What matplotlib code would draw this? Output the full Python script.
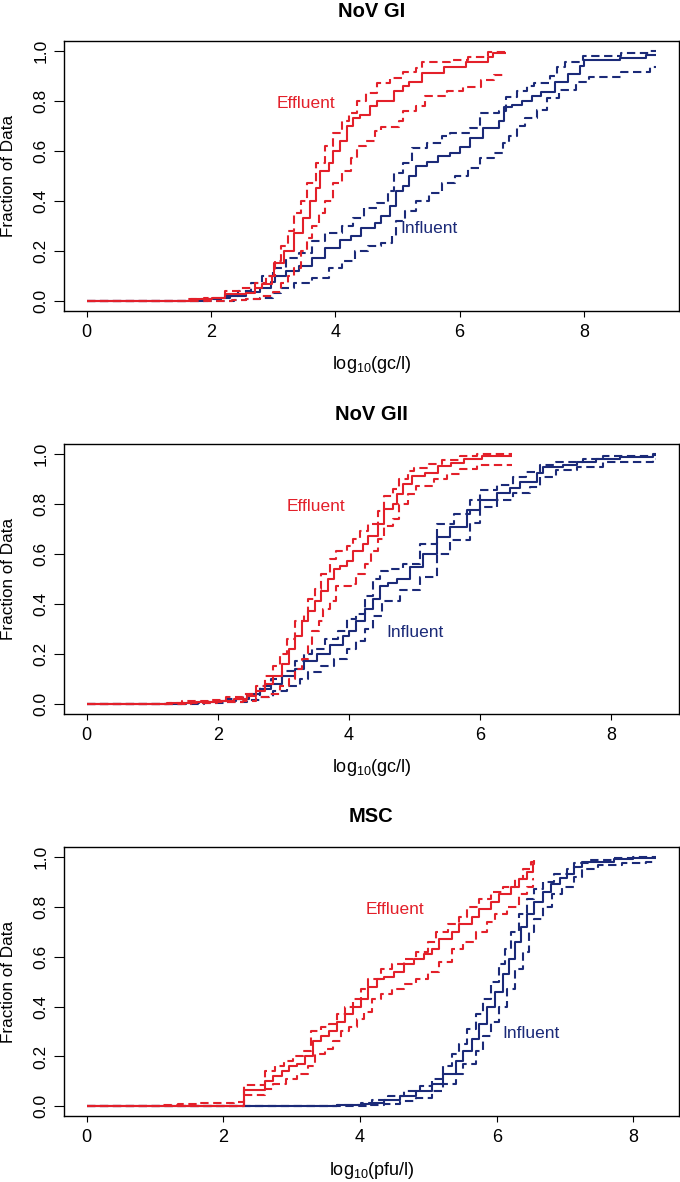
import matplotlib
matplotlib.use("Agg")
import matplotlib.pyplot as plt

plt.rcParams['font.family'] = ['Liberation Sans', 'DejaVu Sans']
plt.rcParams['mathtext.fontset'] = 'custom'
plt.rcParams['mathtext.rm'] = 'Liberation Sans'

RED = '#E3202A'
NAVY = '#1B2A78'

# ---------------- NoV GI ----------------
gi_eff_x = [0, 1.67, 2.02, 2.23, 2.57, 2.71, 2.82, 2.98, 3.02, 3.17, 3.34, 3.48, 3.59, 3.69, 3.76, 3.90, 3.97, 4.08, 4.18, 4.28, 4.39, 4.56, 4.67, 4.95, 5.09, 5.19, 5.40, 5.75, 6.10, 6.45, 6.53, 6.74]
gi_eff_y = [0, 0.005, 0.01, 0.025, 0.03, 0.05, 0.065, 0.10, 0.15, 0.20, 0.27, 0.33, 0.40, 0.45, 0.52, 0.55, 0.60, 0.64, 0.70, 0.73, 0.745, 0.78, 0.80, 0.84, 0.86, 0.875, 0.913, 0.935, 0.957, 0.975, 0.99, 0.99]
gi_eff_up_x = [0, 1.63, 1.88, 2.23, 2.47, 2.71, 2.89, 3.03, 3.13, 3.24, 3.34, 3.45, 3.55, 3.69, 3.83, 3.97, 4.11, 4.22, 4.35, 4.49, 4.67, 4.88, 5.09, 5.30, 5.40, 5.85, 6.13, 6.45, 6.74]
gi_eff_up_y = [0, 0.005, 0.01, 0.04, 0.05, 0.07, 0.10, 0.16, 0.22, 0.28, 0.35, 0.40, 0.47, 0.55, 0.62, 0.67, 0.72, 0.75, 0.80, 0.83, 0.87, 0.89, 0.915, 0.93, 0.955, 0.965, 0.975, 0.997, 0.997]
gi_eff_lo_x = [0, 2.33, 2.57, 2.78, 2.99, 3.13, 3.24, 3.34, 3.45, 3.55, 3.62, 3.73, 3.83, 3.97, 4.11, 4.25, 4.35, 4.49, 4.63, 4.74, 5.02, 5.09, 5.30, 5.44, 5.79, 6.05, 6.34, 6.55, 6.74]
gi_eff_lo_y = [0, 0.003, 0.008, 0.02, 0.035, 0.07, 0.10, 0.13, 0.20, 0.25, 0.30, 0.35, 0.40, 0.47, 0.52, 0.57, 0.62, 0.64, 0.68, 0.695, 0.72, 0.76, 0.78, 0.82, 0.84, 0.857, 0.885, 0.904, 0.904]
gi_inf_x = [0, 1.95, 2.16, 2.30, 2.57, 2.78, 2.96, 3.03, 3.20, 3.41, 3.62, 3.83, 4.08, 4.25, 4.42, 4.63, 4.74, 4.88, 4.98, 5.09, 5.19, 5.30, 5.47, 5.65, 5.84, 6.0, 6.17, 6.37, 6.64, 6.72, 6.85, 7.0, 7.17, 7.31, 7.53, 7.74, 7.93, 8.0, 8.58, 9.0, 9.16]
gi_inf_y = [0, 0.005, 0.01, 0.02, 0.035, 0.05, 0.075, 0.10, 0.12, 0.14, 0.17, 0.21, 0.245, 0.26, 0.29, 0.31, 0.34, 0.38, 0.44, 0.46, 0.50, 0.54, 0.555, 0.58, 0.59, 0.615, 0.65, 0.69, 0.72, 0.775, 0.785, 0.80, 0.82, 0.835, 0.875, 0.908, 0.94, 0.962, 0.971, 0.985, 0.985]
gi_inf_up_x = [0, 1.88, 2.16, 2.44, 2.64, 2.82, 2.99, 3.20, 3.41, 3.62, 3.83, 4.11, 4.28, 4.46, 4.67, 4.84, 4.95, 5.09, 5.23, 5.47, 5.72, 5.84, 6.16, 6.32, 6.64, 6.75, 6.92, 7.08, 7.20, 7.45, 7.56, 7.70, 7.98, 8.60, 9.06, 9.16]
gi_inf_up_y = [0, 0.005, 0.02, 0.04, 0.07, 0.10, 0.13, 0.17, 0.19, 0.24, 0.27, 0.30, 0.33, 0.37, 0.39, 0.44, 0.51, 0.55, 0.61, 0.63, 0.66, 0.67, 0.69, 0.75, 0.76, 0.815, 0.84, 0.86, 0.873, 0.90, 0.935, 0.957, 0.98, 0.99, 1.0, 1.0]
gi_inf_lo_x = [0, 2.37, 2.57, 2.78, 2.99, 3.13, 3.34, 3.62, 3.90, 4.11, 4.32, 4.53, 4.74, 4.91, 4.98, 5.12, 5.30, 5.51, 5.72, 5.92, 6.13, 6.33, 6.55, 6.69, 6.80, 6.92, 7.05, 7.25, 7.40, 7.60, 7.88, 8.08, 8.60, 9.06, 9.16]
gi_inf_lo_y = [0, 0.003, 0.006, 0.01, 0.03, 0.05, 0.07, 0.09, 0.13, 0.16, 0.20, 0.22, 0.23, 0.26, 0.32, 0.36, 0.40, 0.43, 0.47, 0.50, 0.53, 0.57, 0.59, 0.63, 0.66, 0.70, 0.73, 0.765, 0.81, 0.843, 0.875, 0.895, 0.915, 0.935, 0.935]

# ---------------- NoV GII ----------------
gii_eff_x = [0, 1.26, 1.66, 1.99, 2.25, 2.45, 2.58, 2.72, 2.85, 2.98, 3.08, 3.18, 3.28, 3.38, 3.48, 3.58, 3.68, 3.77, 3.87, 3.97, 4.07, 4.21, 4.30, 4.44, 4.54, 4.67, 4.74, 4.83, 4.97, 5.17, 5.36, 5.56, 5.76, 6.03, 6.49]
gii_eff_y = [0, 0.003, 0.007, 0.012, 0.02, 0.03, 0.05, 0.08, 0.11, 0.16, 0.22, 0.27, 0.33, 0.37, 0.41, 0.45, 0.50, 0.54, 0.55, 0.57, 0.61, 0.64, 0.67, 0.72, 0.78, 0.80, 0.84, 0.88, 0.91, 0.925, 0.95, 0.965, 0.98, 0.993, 0.993]
gii_eff_up_x = [0, 1.22, 1.46, 1.85, 2.12, 2.38, 2.58, 2.72, 2.85, 2.95, 3.05, 3.18, 3.31, 3.38, 3.48, 3.58, 3.71, 3.81, 3.97, 4.07, 4.17, 4.30, 4.44, 4.54, 4.67, 4.77, 4.90, 5.0, 5.23, 5.43, 5.70, 5.96, 6.49]
gii_eff_up_y = [0, 0.003, 0.01, 0.015, 0.025, 0.04, 0.07, 0.11, 0.15, 0.20, 0.26, 0.33, 0.36, 0.42, 0.46, 0.52, 0.58, 0.61, 0.63, 0.66, 0.69, 0.72, 0.77, 0.83, 0.86, 0.90, 0.93, 0.945, 0.96, 0.975, 0.99, 1.0, 1.0]
gii_eff_lo_x = [0, 1.59, 1.99, 2.38, 2.58, 2.78, 2.95, 3.08, 3.18, 3.28, 3.38, 3.44, 3.54, 3.61, 3.71, 3.81, 4.04, 4.11, 4.24, 4.34, 4.44, 4.54, 4.67, 4.77, 4.90, 5.03, 5.30, 5.50, 5.70, 5.96, 6.49]
gii_eff_lo_y = [0, 0.003, 0.005, 0.012, 0.025, 0.04, 0.07, 0.10, 0.14, 0.18, 0.24, 0.29, 0.33, 0.38, 0.41, 0.47, 0.48, 0.52, 0.56, 0.61, 0.66, 0.71, 0.74, 0.80, 0.84, 0.87, 0.90, 0.92, 0.94, 0.955, 0.955]
gii_inf_x = [0, 1.52, 1.72, 2.05, 2.28, 2.48, 2.65, 2.81, 2.98, 3.18, 3.31, 3.51, 3.71, 3.91, 4.0, 4.11, 4.24, 4.37, 4.47, 4.60, 4.73, 4.93, 5.13, 5.34, 5.54, 5.80, 6.0, 6.26, 6.46, 6.61, 6.87, 6.97, 7.27, 7.48, 7.78, 8.14, 8.64, 8.69]
gii_inf_y = [0, 0.002, 0.005, 0.01, 0.02, 0.04, 0.06, 0.08, 0.11, 0.14, 0.17, 0.20, 0.235, 0.27, 0.29, 0.33, 0.38, 0.42, 0.47, 0.485, 0.50, 0.548, 0.60, 0.668, 0.708, 0.775, 0.815, 0.843, 0.862, 0.889, 0.922, 0.949, 0.955, 0.968, 0.981, 0.988, 0.995, 0.995]
gii_inf_up_x = [0, 1.46, 1.79, 2.12, 2.38, 2.65, 2.81, 2.98, 3.18, 3.31, 3.44, 3.64, 3.84, 3.97, 4.11, 4.24, 4.37, 4.47, 4.60, 4.83, 5.08, 5.34, 5.60, 5.85, 6.0, 6.26, 6.51, 6.71, 6.92, 7.17, 7.58, 7.88, 8.64, 8.69]
gii_inf_up_y = [0, 0.002, 0.005, 0.02, 0.035, 0.07, 0.10, 0.13, 0.17, 0.20, 0.22, 0.26, 0.29, 0.34, 0.36, 0.43, 0.50, 0.53, 0.54, 0.56, 0.64, 0.72, 0.76, 0.815, 0.855, 0.875, 0.909, 0.929, 0.955, 0.968, 0.981, 0.99, 0.998, 0.998]
gii_inf_lo_x = [0, 1.79, 2.12, 2.45, 2.65, 2.85, 3.05, 3.25, 3.38, 3.58, 3.77, 3.97, 4.11, 4.24, 4.37, 4.50, 4.78, 5.08, 5.34, 5.54, 5.85, 6.0, 6.26, 6.51, 6.76, 6.92, 7.17, 7.48, 7.88, 8.64, 8.69]
gii_inf_lo_y = [0, 0.002, 0.005, 0.015, 0.025, 0.05, 0.07, 0.10, 0.125, 0.15, 0.18, 0.22, 0.25, 0.30, 0.35, 0.41, 0.454, 0.508, 0.60, 0.655, 0.722, 0.789, 0.815, 0.842, 0.869, 0.909, 0.936, 0.949, 0.968, 0.981, 0.981]

# ---------------- MSC ----------------
msc_eff_x = [0, 2.30, 2.61, 2.73, 2.85, 2.96, 3.08, 3.20, 3.31, 3.43, 3.54, 3.66, 3.78, 3.89, 4.01, 4.12, 4.24, 4.35, 4.50, 4.64, 4.79, 4.93, 5.05, 5.16, 5.34, 5.45, 5.63, 5.74, 5.92, 6.03, 6.21, 6.32, 6.44, 6.53, 6.55]
msc_eff_y = [0, 0.065, 0.10, 0.12, 0.14, 0.16, 0.17, 0.20, 0.26, 0.28, 0.30, 0.34, 0.37, 0.40, 0.43, 0.48, 0.51, 0.52, 0.54, 0.57, 0.59, 0.61, 0.63, 0.67, 0.70, 0.73, 0.76, 0.79, 0.82, 0.85, 0.88, 0.91, 0.94, 0.97, 0.98]
msc_eff_up_x = [0, 0.76, 1.05, 1.34, 1.63, 1.92, 2.15, 2.30, 2.61, 2.76, 2.88, 3.02, 3.17, 3.28, 3.43, 3.54, 3.66, 3.78, 3.89, 4.01, 4.12, 4.30, 4.47, 4.64, 4.82, 4.99, 5.11, 5.28, 5.45, 5.57, 5.74, 5.92, 6.09, 6.27, 6.38, 6.50, 6.55]
msc_eff_up_y = [0, 0.003, 0.005, 0.01, 0.012, 0.015, 0.018, 0.085, 0.14, 0.16, 0.18, 0.20, 0.22, 0.30, 0.32, 0.33, 0.37, 0.40, 0.43, 0.47, 0.51, 0.55, 0.57, 0.59, 0.62, 0.66, 0.70, 0.73, 0.76, 0.80, 0.83, 0.86, 0.88, 0.91, 0.95, 0.98, 1.0]
msc_eff_lo_x = [0, 2.30, 2.61, 2.73, 2.91, 3.08, 3.23, 3.34, 3.49, 3.60, 3.72, 3.83, 3.95, 4.06, 4.18, 4.30, 4.47, 4.64, 4.82, 4.99, 5.16, 5.34, 5.51, 5.69, 5.86, 5.98, 6.15, 6.32, 6.44, 6.53, 6.55]
msc_eff_lo_y = [0, 0.045, 0.07, 0.09, 0.11, 0.13, 0.16, 0.21, 0.23, 0.26, 0.30, 0.32, 0.35, 0.38, 0.43, 0.45, 0.47, 0.49, 0.51, 0.54, 0.58, 0.63, 0.66, 0.70, 0.74, 0.77, 0.80, 0.85, 0.88, 0.91, 0.91]
msc_inf_x = [0, 3.20, 3.66, 4.01, 4.18, 4.35, 4.59, 4.82, 5.05, 5.22, 5.40, 5.51, 5.63, 5.74, 5.86, 5.98, 6.09, 6.18, 6.27, 6.35, 6.44, 6.55, 6.67, 6.79, 6.93, 7.02, 7.13, 7.25, 7.71, 8.0, 8.33]
msc_inf_y = [0, 0.002, 0.005, 0.01, 0.015, 0.025, 0.04, 0.06, 0.09, 0.13, 0.18, 0.22, 0.27, 0.33, 0.40, 0.46, 0.53, 0.59, 0.66, 0.72, 0.77, 0.82, 0.86, 0.89, 0.915, 0.93, 0.96, 0.98, 0.99, 0.995, 0.995]
msc_inf_up_x = [0, 3.08, 3.66, 4.01, 4.18, 4.41, 4.64, 4.88, 5.05, 5.22, 5.34, 5.45, 5.57, 5.69, 5.80, 5.92, 6.03, 6.12, 6.21, 6.32, 6.44, 6.55, 6.67, 6.84, 7.02, 7.13, 7.37, 7.71, 8.0, 8.33]
msc_inf_up_y = [0, 0.002, 0.007, 0.015, 0.025, 0.04, 0.06, 0.08, 0.11, 0.16, 0.21, 0.25, 0.31, 0.37, 0.43, 0.50, 0.57, 0.63, 0.70, 0.77, 0.83, 0.87, 0.90, 0.93, 0.95, 0.975, 0.985, 0.995, 1.0, 1.0]
msc_inf_lo_x = [0, 3.66, 4.12, 4.35, 4.59, 4.82, 5.05, 5.22, 5.40, 5.51, 5.69, 5.80, 5.92, 6.03, 6.15, 6.27, 6.38, 6.47, 6.55, 6.67, 6.81, 6.96, 7.13, 7.25, 7.48, 7.83, 8.18, 8.33]
msc_inf_lo_y = [0, 0.002, 0.005, 0.01, 0.02, 0.035, 0.06, 0.09, 0.13, 0.17, 0.22, 0.28, 0.34, 0.40, 0.47, 0.55, 0.62, 0.70, 0.75, 0.80, 0.85, 0.88, 0.92, 0.95, 0.965, 0.975, 0.98, 0.98]

titles = ['NoV GI', 'NoV GII', 'MSC']
xlabels = [r'log$_\mathregular{10}$(gc/l)', r'log$_\mathregular{10}$(gc/l)', r'log$_\mathregular{10}$(pfu/l)']
eff_label_pos = [(3.52, 0.79), (3.50, 0.79), (4.51, 0.79)]
inf_label_pos = [(5.50, 0.29), (5.01, 0.287), (6.50, 0.29)]
xtick_vals = [0, 2, 4, 6, 8]
ytick_vals = [0.0, 0.2, 0.4, 0.6, 0.8, 1.0]
ytick_labels = ['0.0', '0.2', '0.4', '0.6', '0.8', '1.0']

panels = [
    dict(eff=(gi_eff_x, gi_eff_y), eff_up=(gi_eff_up_x, gi_eff_up_y), eff_lo=(gi_eff_lo_x, gi_eff_lo_y),
         inf=(gi_inf_x, gi_inf_y), inf_up=(gi_inf_up_x, gi_inf_up_y), inf_lo=(gi_inf_lo_x, gi_inf_lo_y)),
    dict(eff=(gii_eff_x, gii_eff_y), eff_up=(gii_eff_up_x, gii_eff_up_y), eff_lo=(gii_eff_lo_x, gii_eff_lo_y),
         inf=(gii_inf_x, gii_inf_y), inf_up=(gii_inf_up_x, gii_inf_up_y), inf_lo=(gii_inf_lo_x, gii_inf_lo_y)),
    dict(eff=(msc_eff_x, msc_eff_y), eff_up=(msc_eff_up_x, msc_eff_up_y), eff_lo=(msc_eff_lo_x, msc_eff_lo_y),
         inf=(msc_inf_x, msc_inf_y), inf_up=(msc_inf_up_x, msc_inf_up_y), inf_lo=(msc_inf_lo_x, msc_inf_lo_y)),
]

W, H = 680, 1182
fig = plt.figure(figsize=(W / 100, H / 100), dpi=100)

ax_left_px, ax_right_px = 64, 678.8
ax_tops_px = [41.0, 444.0, 846.7]
ax_h_px = 269.7

LW = 1.5
DASH = (4.0, 2.2)
FS = 13

for i, p in enumerate(panels):
    top = ax_tops_px[i]
    ax = fig.add_axes([ax_left_px / W, 1 - (top + ax_h_px) / H,
                       (ax_right_px - ax_left_px) / W, ax_h_px / H])
    for key, col, ls in [('inf_up', NAVY, 'dash'), ('inf_lo', NAVY, 'dash'), ('inf', NAVY, 'solid'),
                         ('eff_up', RED, 'dash'), ('eff_lo', RED, 'dash'), ('eff', RED, 'solid')]:
        xs, ys = p[key]
        line, = ax.step(xs, ys, where='post', color=col, lw=LW, solid_capstyle='butt')
        if ls == 'dash':
            line.set_dashes(DASH)
            line.set_dash_capstyle('butt')
    xmax = max(max(p[k][0]) for k in p)
    ax.set_xlim(-0.04 * xmax, 1.04 * xmax)
    ax.set_ylim(-0.04, 1.04)
    ax.set_xticks(xtick_vals)
    ax.set_xticklabels([str(v) for v in xtick_vals])
    ax.set_yticks(ytick_vals)
    ax.set_yticklabels(ytick_labels, rotation=90, va='center')
    ax.tick_params(axis='x', length=4.3, width=0.8, pad=5, labelsize=FS)
    ax.tick_params(axis='y', length=7.0, width=0.8, pad=4, labelsize=12.5)
    for s in ax.spines.values():
        s.set_linewidth(1.0)
    ax.set_ylabel('Fraction of Data', fontsize=12.3, va='center')
    ax.yaxis.set_label_coords(-55 / (ax_right_px - ax_left_px), 0.5)
    ax.set_xlabel(xlabels[i], fontsize=FS, va='center')
    ax.xaxis.set_label_coords(0.5, -54 / ax_h_px)
    ax.annotate(titles[i], xy=(0.5, 1.0), xycoords='axes fraction', xytext=(0, 21.5),
                textcoords='offset points', ha='center', va='center', fontsize=14.5, fontweight='bold')
    ex, ey = eff_label_pos[i]
    ax.text(ex, ey, 'Effluent', color=RED, fontsize=12.5, ha='center', va='center')
    ix, iy = inf_label_pos[i]
    ax.text(ix, iy, 'Influent', color=NAVY, fontsize=12.5, ha='center', va='center')

fig.savefig('out.png', dpi=100)
